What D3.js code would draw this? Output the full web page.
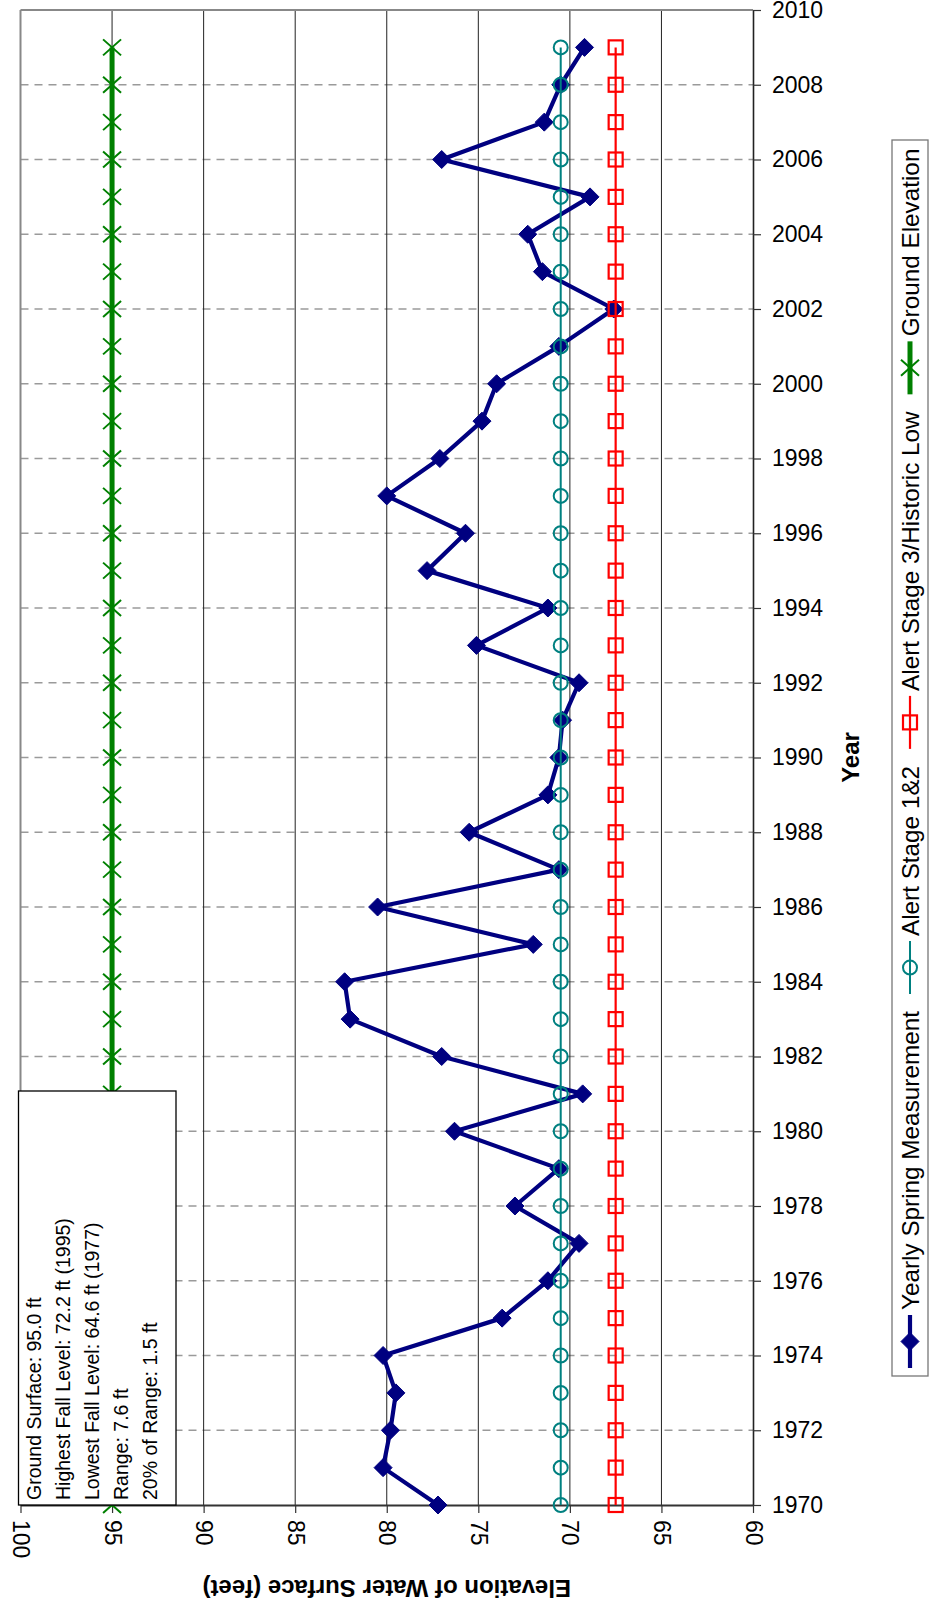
<!DOCTYPE html>
<html>
<head>
<meta charset="utf-8">
<script src="https://cdn.jsdelivr.net/npm/d3@7/dist/d3.min.js"></script>
<style>
  html, body { margin: 0; padding: 0; background: #fff; }
  svg { display: block; }
  text { font-family: "Liberation Sans", Arial, sans-serif; fill: #000; }
</style>
</head>
<body>
<svg id="chart" width="929" height="1608"></svg>
<script>
// Water level record, 1970-2009 (feet of elevation)
const years = [1970, 1971, 1972, 1973, 1974, 1975, 1976, 1977, 1978, 1979,
               1980, 1981, 1982, 1983, 1984, 1985, 1986, 1987, 1988, 1989,
               1990, 1991, 1992, 1993, 1994, 1995, 1996, 1997, 1998, 1999,
               2000, 2001, 2002, 2003, 2004, 2005, 2006, 2007, 2008, 2009];
const springLevels = [77.2, 80.2, 79.8, 79.5, 80.2, 73.7, 71.2, 69.5, 73.0, 70.6,
                      76.3, 69.3, 77.0, 82.0, 82.3, 72.0, 80.5, 70.6, 75.5, 71.2,
                      70.6, 70.4, 69.5, 75.1, 71.2, 77.8, 75.7, 80.0, 77.1, 74.8,
                      74.0, 70.6, 67.6, 71.5, 72.3, 68.9, 77.0, 71.4, 70.5, 69.2];
const alertStage12Level = 70.5;
const alertStage3Level = 67.5;
const groundElevationLevel = 95.0;

const elevationTicks = [100, 95, 90, 85, 80, 75, 70, 65, 60];
const yearTicks = [1970, 1972, 1974, 1976, 1978, 1980, 1982, 1984, 1986, 1988, 1990,
                   1992, 1994, 1996, 1998, 2000, 2002, 2004, 2006, 2008, 2010];
const seriesNames = ["Yearly Spring Measurement", "Alert Stage 1&2",
                     "Alert Stage 3/Historic Low", "Ground Elevation"];
const noteLines = ["Ground Surface: 95.0 ft",
                   "Highest Fall Level: 72.2 ft (1995)",
                   "Lowest Fall Level: 64.6 ft (1977)",
                   "Range: 7.6 ft",
                   "20% of Range: 1.5 ft"];

const svg = d3.select("#chart");

// Plot is laid out sideways: elevation runs right-to-left along the bottom,
// years run upward along the right-hand side.
const plot = { left: 20.5, right: 753, top: 10, bottom: 1505 };
const x = d3.scaleLinear().domain([100, 60]).range([plot.left, plot.right]);
const y = d3.scaleLinear().domain([1970, 2010]).range([plot.bottom, plot.top]);

// Gridlines
const grid = svg.append("g");
grid.selectAll("line.h")
  .data(yearTicks.filter(t => t > 1970 && t < 2010))
  .join("line")
  .attr("x1", plot.left).attr("x2", plot.right)
  .attr("y1", d => y(d)).attr("y2", d => y(d))
  .attr("stroke", "#9a9a9a").attr("stroke-width", 1.3)
  .attr("stroke-dasharray", "8,6");
grid.selectAll("line.v")
  .data(elevationTicks.filter(t => t < 100 && t > 60))
  .join("line")
  .attr("x1", d => x(d)).attr("x2", d => x(d))
  .attr("y1", plot.top).attr("y2", plot.bottom)
  .attr("stroke", "#222").attr("stroke-width", 1);

// Frame on the top and left sides
svg.append("line").attr("x1", plot.left).attr("x2", plot.right)
  .attr("y1", plot.top).attr("y2", plot.top)
  .attr("stroke", "#888").attr("stroke-width", 2);
svg.append("line").attr("x1", plot.left).attr("x2", plot.left)
  .attr("y1", plot.top).attr("y2", plot.bottom)
  .attr("stroke", "#888").attr("stroke-width", 2);

// Elevation axis (bottom)
const xAxis = svg.append("g")
  .attr("transform", `translate(0,${plot.bottom})`)
  .call(d3.axisBottom(x).tickValues(elevationTicks).tickSize(8).tickSizeOuter(0).tickFormat(d3.format("d")));
xAxis.select(".domain").attr("stroke", "#333").attr("stroke-width", 2);
xAxis.selectAll(".tick line").attr("stroke", "#333").attr("stroke-width", 1.2);
xAxis.selectAll(".tick text")
  .attr("font-size", 23).attr("font-family", "'Liberation Sans', Arial, sans-serif")
  .attr("text-anchor", "start").attr("dy", null).attr("y", null)
  .attr("dominant-baseline", "central")
  .attr("transform", "translate(0,15) rotate(90)");

// Year axis (right)
const yAxis = svg.append("g")
  .attr("transform", `translate(${plot.right},0)`)
  .call(d3.axisRight(y).tickValues(yearTicks).tickSize(8).tickSizeOuter(0).tickPadding(11).tickFormat(d3.format("d")));
yAxis.select(".domain").attr("stroke", "#222").attr("stroke-width", 1.6);
yAxis.selectAll(".tick line").attr("stroke", "#333").attr("stroke-width", 1.2);
yAxis.selectAll(".tick text")
  .attr("font-size", 23).attr("font-family", "'Liberation Sans', Arial, sans-serif");

// Axis titles
svg.append("text")
  .attr("transform", `translate(${(plot.left + plot.right) / 2},1580) rotate(180)`)
  .attr("text-anchor", "middle").attr("font-weight", "bold").attr("font-size", 24)
  .text("Elevation of Water Surface (feet)");
svg.append("text")
  .attr("transform", `translate(859,${(plot.top + plot.bottom) / 2}) rotate(-90)`)
  .attr("text-anchor", "middle").attr("font-weight", "bold").attr("font-size", 24)
  .text("Year");

// Series styles and markers
const navy = "#000080", teal = "#008080", red = "#ff0000", green = "#008000";
function drawDiamond(g, cx, cy) {
  g.append("path")
    .attr("d", "M0,-9L9,0L0,9L-9,0Z")
    .attr("transform", `translate(${cx},${cy})`)
    .attr("fill", navy).attr("stroke", navy).attr("stroke-width", 1);
}
function drawCircle(g, cx, cy) {
  g.append("circle").attr("cx", cx).attr("cy", cy).attr("r", 7)
    .attr("fill", "none").attr("stroke", teal).attr("stroke-width", 2);
}
function drawSquare(g, cx, cy) {
  g.append("rect").attr("x", cx - 7).attr("y", cy - 7).attr("width", 14).attr("height", 14)
    .attr("fill", "none").attr("stroke", red).attr("stroke-width", 2.2);
}
function drawCross(g, cx, cy) {
  g.append("path")
    .attr("d", "M-9,-8L9,8M-9,8L9,-8")
    .attr("transform", `translate(${cx},${cy})`)
    .attr("fill", "none").attr("stroke", green).attr("stroke-width", 2);
}

const series = [
  { name: seriesNames[0], values: springLevels, color: navy, width: 4.2, marker: drawDiamond },
  { name: seriesNames[1], values: years.map(() => alertStage12Level), color: teal, width: 2, marker: drawCircle },
  { name: seriesNames[2], values: years.map(() => alertStage3Level), color: red, width: 2.2, marker: drawSquare },
  { name: seriesNames[3], values: years.map(() => groundElevationLevel), color: green, width: 5, marker: drawCross }
];

const line = d3.line().x(d => x(d.v)).y(d => y(d.year));
series.forEach(s => {
  const pts = years.map((yr, i) => ({ year: yr, v: s.values[i] }));
  const g = svg.append("g");
  g.append("path").datum(pts).attr("d", line)
    .attr("fill", "none").attr("stroke", s.color).attr("stroke-width", s.width)
    .attr("stroke-linejoin", "round");
  pts.forEach(p => s.marker(g, x(p.v), y(p.year)));
});

// Note box with summary statistics
const note = svg.append("g");
note.append("rect").attr("x", 18.5).attr("y", 1091).attr("width", 157.5).attr("height", plot.bottom - 1091)
  .attr("fill", "#fff").attr("stroke", "#000").attr("stroke-width", 1.3);
noteLines.forEach((t, i) => {
  note.append("text")
    .attr("transform", `translate(${41 + i * 29},1500) rotate(-90)`)
    .attr("font-family", "Carlito, Calibri, Lato, sans-serif").attr("font-size", 19.5)
    .text(t);
});

// Legend
const legend = svg.append("g");
const legendTop = 140, legendBottom = 1376;
legend.append("rect").attr("x", 892).attr("y", legendTop).attr("width", 36).attr("height", legendBottom - legendTop)
  .attr("fill", "#fff").attr("stroke", "#777").attr("stroke-width", 1.3);
let cursor = 1368;
series.forEach(s => {
  const symTop = cursor - 53;
  legend.append("line").attr("x1", 910).attr("x2", 910).attr("y1", cursor).attr("y2", symTop)
    .attr("stroke", s.color).attr("stroke-width", s.width);
  s.marker(legend, 910, (cursor + symTop) / 2);
  const txt = legend.append("text")
    .attr("transform", `translate(919,${symTop - 5}) rotate(-90)`)
    .attr("font-size", 24.3)
    .text(s.name);
  cursor = symTop - 5 - txt.node().getComputedTextLength() - 17;
});
</script>
</body>
</html>
